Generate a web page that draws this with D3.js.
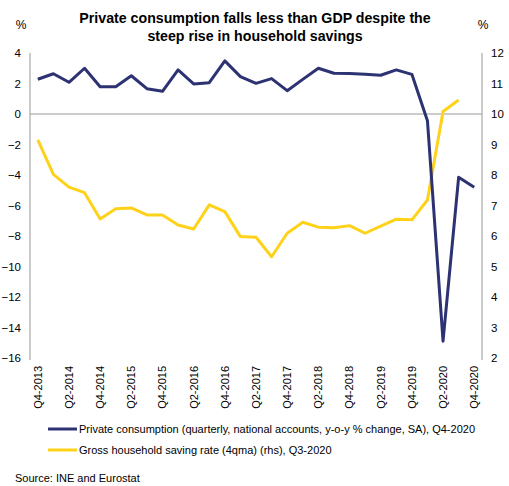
<!DOCTYPE html>
<html><head><meta charset="utf-8">
<script src="https://cdn.jsdelivr.net/npm/d3@7"></script>
<style>
body{margin:0;background:#fff;}
text{font-family:"Liberation Sans",Arial,sans-serif;fill:#000;}
</style></head>
<body><svg id="c" width="509" height="486"></svg>
<script>
const quarters = ["Q4-2013","Q1-2014","Q2-2014","Q3-2014","Q4-2014","Q1-2015","Q2-2015","Q3-2015","Q4-2015","Q1-2016","Q2-2016","Q3-2016","Q4-2016","Q1-2017","Q2-2017","Q3-2017","Q4-2017","Q1-2018","Q2-2018","Q3-2018","Q4-2018","Q1-2019","Q2-2019","Q3-2019","Q4-2019","Q1-2020","Q2-2020","Q3-2020","Q4-2020"];
const consumption = [2.28,2.64,2.08,3.0,1.79,1.79,2.51,1.66,1.49,2.89,1.97,2.05,3.48,2.45,2.01,2.32,1.53,2.27,3.0,2.67,2.65,2.6,2.54,2.89,2.6,-0.44,-14.9,-4.15,-4.8];
const saving = [9.15,8.02,7.6,7.42,6.56,6.89,6.92,6.69,6.69,6.36,6.23,7.02,6.8,5.98,5.96,5.32,6.09,6.45,6.29,6.27,6.34,6.09,6.32,6.55,6.53,7.18,10.08,10.46];
const leftTicks = [4,2,0,-2,-4,-6,-8,-10,-12,-14,-16];
const rightTicks = [12,11,10,9,8,7,6,5,4,3,2];
const xLabels = quarters.filter((q,i)=>i%2===0);
const titleLines = ["Private consumption falls less than GDP despite the","steep rise in household savings"];
const legendItems = ["Private consumption (quarterly, national accounts, y-o-y % change, SA), Q4-2020","Gross household saving rate (4qma) (rhs), Q3-2020"];
const colors = ["#2c3272","#ffd21a"];

const svg = d3.select("#c");
const L=30, R=482, T=53, B=358;
const x = d3.scaleBand().domain(quarters).range([L,R]);
const yl = d3.scaleLinear().domain([-16,4]).range([B,T]);
const yr = d3.scaleLinear().domain([2,12]).range([B,T]);
const cx = q => x(q)+x.bandwidth()/2;

// title
svg.append("g").selectAll("text").data(titleLines).join("text")
  .attr("x",255).attr("y",(d,i)=>23+i*18).attr("text-anchor","middle")
  .attr("font-weight","bold").attr("font-size","14.2px").text(d=>d);
svg.append("text").attr("x",21).attr("y",29).attr("text-anchor","middle").attr("font-size","12px").text("%");
svg.append("text").attr("x",483).attr("y",29).attr("text-anchor","middle").attr("font-size","12px").text("%");

// axes
const gL = svg.append("g").attr("transform",`translate(${L},0)`)
  .call(d3.axisLeft(yl).tickValues(leftTicks).tickSize(0).tickPadding(9).tickFormat(d3.format("d")));
const gR = svg.append("g").attr("transform",`translate(${R},0)`)
  .call(d3.axisRight(yr).tickValues(rightTicks).tickSize(0).tickPadding(9).tickFormat(d3.format("d")));
[gL,gR].forEach(g=>{
  g.select(".domain").attr("stroke","#999").attr("stroke-width",1);
  g.selectAll("text").attr("font-size","11.5px").attr("font-family","Liberation Sans, Arial, sans-serif").attr("fill","#000");
});
gL.select(".domain").attr("d",`M0,${T}V${B+2}`);
gR.select(".domain").attr("d",`M0,${T}V${B+2}`);

// zero line
svg.append("line").attr("x1",L).attr("x2",R).attr("y1",yl(0)).attr("y2",yl(0))
  .attr("stroke","#999").attr("stroke-width",1);

// x labels
svg.append("g").selectAll("text").data(xLabels).join("text")
  .attr("transform",d=>`translate(${cx(d)},366) rotate(-90)`)
  .attr("text-anchor","end").attr("dy","0.35em").attr("font-size","11px").text(d=>d);

// lines
svg.append("path").datum(saving)
  .attr("d",d3.line().x((d,i)=>cx(quarters[i])).y(d=>yr(d)))
  .attr("fill","none").attr("stroke",colors[1]).attr("stroke-width",3).attr("stroke-linejoin","round");
svg.append("path").datum(consumption)
  .attr("d",d3.line().x((d,i)=>cx(quarters[i])).y(d=>yl(d)))
  .attr("fill","none").attr("stroke",colors[0]).attr("stroke-width",3).attr("stroke-linejoin","round");

// legend
const lg = svg.append("g").selectAll("g").data(legendItems).join("g")
  .attr("transform",(d,i)=>`translate(0,${429+i*21})`);
lg.append("line").attr("x1",48).attr("x2",77).attr("stroke",(d,i)=>colors[i]).attr("stroke-width",3);
lg.append("text").attr("x",79).attr("dy","0.35em").attr("font-size","11px").text(d=>d);

svg.append("text").attr("x",15).attr("y",482).attr("font-size","11px").text("Source: INE and Eurostat");
</script></body></html>
